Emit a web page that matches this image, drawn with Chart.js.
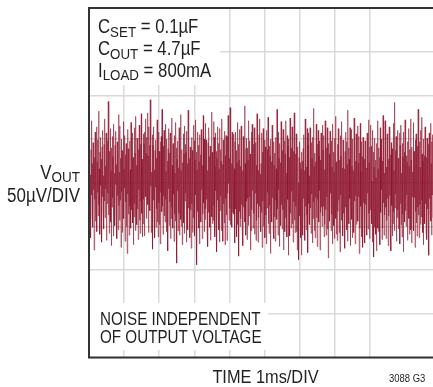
<!DOCTYPE html>
<html>
<head>
<meta charset="utf-8">
<script src="https://cdn.jsdelivr.net/npm/chart.js@4"></script>
<style>
  html, body { margin: 0; padding: 0; background: #fff; }
  #wrap { width: 433px; height: 387px; }
</style>
</head>
<body>
<div id="wrap"><canvas id="chart" width="433" height="387"></canvas></div>
<script>
// output noise, µV from the DC level (left to right)
const vout = [
  18,-42,55,-27,9,-63,38,-14,71,-35,22,-51,46,-8,33,-77,29,-19,58,-44,
  13,-31,64,-56,24,-11,49,-38,82,-25,16,-59,35,-3,52,-47,27,-68,41,-16,
  60,-29,8,-53,44,-21,73,-40,19,-7,57,-66,31,-24,48,-12,93,-37,25,-58,
  36,-9,62,-45,14,-72,40,-28,53,-17,30,-61,67,-33,11,-49,43,-2,59,-39,
  21,-64,47,-15,35,-54,78,-26,12,-43,65,-20,28,-74,50,-10,37,-57,23,-34,
  70,-41,16,-6,54,-67,32,-22,45,-50,26,-81,61,-13,39,-36,8,-60,48,-27,
  15,-52,69,-31,42,-18,57,-46,29,-71,10,-39,63,-24,34,-55,76,-12,20,-48,
  51,-30,24,-65,38,-8,66,-43,17,-58,44,-21,79,-35,27,-62,13,-47,56,-19,
  45,-61,58,-2,73,-16,34,-41,52,3,80,-25,31,-57,64,-13,43,-32,95,-4,
  26,-57,12,-34,55,-76,43,-20,64,-40,15,-63,37,-5,49,-51,28,-30,72,-45,
  9,-62,58,-23,36,-48,18,-70,47,-11,53,-33,84,-27,21,-59,42,-15,60,-38,
  30,-45,67,-19,13,-56,50,-32,25,-78,39,-7,62,-49,34,-22,57,-64,16,-41,
  74,-28,20,-52,45,-13,31,-67,54,-36,11,-44,69,-18,40,-92,27,-9,48,-55,
  17,-35,63,-60,29,-25,78,-42,14,-50,38,-71,23,-16,56,-46,33,-58,65,-21,
  44,-12,35,-68,59,-37,22,-54,83,-29,47,-6,28,-63,41,-31,18,-75,52,-24,
  37,-57,10,-40,66,-20,48,-61,26,-14,72,-47,35,-94,15,-33,58,-27,43,-52,
  24,-70,55,-17,32,-45,61,-8,39,-64,20,-36,77,-23,50,-56,12,-42,68,-30,
  49,-19,27,-58,14,-73,46,-34,63,-11,30,-51,42,-66,24,-13,81,-39,35,-47,
  11,-43,70,-26,52,-62,19,-9,57,-48,36,-79,28,-20,64,-35,45,-54,16,-68,
  62,-32,38,-15,25,-55,73,-41,21,-67,49,-24,13,-46,59,-71,31,-18,54,-37,
  38,-66,53,-12,77,-1,44,-43,28,-29,86,-48,50,-17,22,-51,58,-34,39,-4,
  56,-36,16,-69,47,-30,58,-7,37,-62,23,-48,69,-19,44,-84,26,-33,61,-50,
  19,-41,65,-25,30,-57,14,-72,53,-28,42,-13,88,-45,22,-60,39,-21,51,-65,
  40,-18,26,-49,71,-38,48,-16,33,-77,17,-55,58,-31,67,-9,25,-52,44,-35,
  63,-59,31,-12,46,-66,20,-43,79,-24,36,-68,14,-40,55,-27,73,-46,10,-56,
  22,-34,57,-74,35,-21,62,-50,27,-15,49,-63,41,-37,18,-70,60,-29,38,-11,
  75,-47,13,-58,42,-26,31,-81,50,-33,24,-45,66,-17,32,-54,47,-64,20,-39,
  34,-67,52,-20,16,-42,84,-30,39,-60,58,-8,28,-73,45,-36,23,-49,70,-25,
  14,-53,37,-31,61,-77,22,-14,48,-56,33,-40,71,-28,11,-62,54,-19,42,-83,
  50,-23,29,-61,74,-35,17,-52,40,-10,64,-47,27,-68,36,-22,80,-43,15,-57,
  33,-27,56,-56,9,-77,41,-44,0,-88,29,-38,47,-24,23,-63,16,-83,35,-45,
  25,-60,39,-18,55,-39,14,-66,73,-27,30,-54,18,-37,62,-80,43,-24,57,-46,
  8,-48,63,-29,37,-58,46,-13,28,-69,52,-41,85,-22,19,-55,34,-63,24,-17,
  67,-40,20,-73,44,-19,60,-45,31,-9,48,-77,26,-34,57,-28,13,-50,66,-38,
  38,-27,54,-62,15,-48,71,-31,22,-60,40,-16,63,-53,29,-86,45,-21,33,-44,
  59,-12,27,-55,48,-36,18,-70,67,-24,35,-49,12,-64,51,-30,76,-41,24,-59,
  20,-66,44,-33,62,-20,39,-57,26,-79,54,-14,31,-43,70,-25,17,-61,49,-35,
  43,-51,16,-75,36,-28,58,-11,47,-54,21,-67,83,-30,40,-47,27,-18,63,-72,
  31,-24,61,-42,19,-63,50,-36,14,-57,74,-21,38,-70,25,-15,56,-48,35,-29,
  65,-44,23,-16,53,-81,34,-52,68,-27,13,-62,47,-39,30,-74,52,-23,18,-50,
  27,-69,48,-25,39,-46,17,-60,57,-12,42,-53,72,-35,23,-64,41,-31,66,-20,
  42,-47,2,-68,60,-40,35,-85,18,-51,51,-29,26,-59,6,-78,45,-37,71,-52,
  16,-56,40,-21,29,-71,63,-34,50,-8,33,-65,25,-52,77,-23,44,-60,11,-37,
  71,-28,35,-64,18,-43,56,-18,42,-72,27,-38,64,-15,49,-58,32,-78,46,-26,
  39,-61,22,-47,68,-33,14,-55,92,-29,37,-13,53,-67,21,-40,60,-31,28,-53,
  23,-19,57,-70,43,-24,66,-48,11,-62,45,-36,30,-79,58,-10,35,-45,72,-32,
  54,-50,31,-14,24,-66,47,-27,62,-41,19,-59,38,-21,73,-54,26,-69,41,-16,
  12,-38,69,-55,36,-17,28,-74,49,-33,56,-46,15,-61,42,-28,84,-37,20,-63,
  47,-25,18,-48,60,-39,75,-20,33,-57,25,-71,50,-12,31,-47,64,-24,38,-56,
  29,-65,51,-30,15,-52,44,-83,57,-18,40,-35,68,-44,22,-60,47,-14,55,-40
];
const timeSpan = 9.8;          // ms shown on screen (10th division is cut off)
const yTicks = [-200, -150, -100, -50, 0, 50, 100, 150, 200];

const FONT = '"Liberation Sans", Arial, sans-serif';
const INK = '#231f20';

function rich(ctx, parts, x, y, align, sx) {
  // parts: [text, size, dy]
  let w = 0;
  parts.forEach(p => { ctx.font = p[1] + 'px ' + FONT; w += ctx.measureText(p[0]).width * sx; });
  let cx = align === 'right' ? x - w : (align === 'center' ? x - w / 2 : x);
  parts.forEach(p => {
    ctx.font = p[1] + 'px ' + FONT;
    ctx.save();
    ctx.translate(cx, y + (p[2] || 0));
    ctx.scale(sx, 1);
    ctx.fillText(p[0], 0, 0);
    ctx.restore();
    cx += ctx.measureText(p[0]).width * sx;
  });
}

const scopeDecor = {
  id: 'scopeDecor',
  afterDatasetsDraw(chart) {
    const ctx = chart.ctx;
    const a = chart.chartArea;
    ctx.save();
    // white boxes behind the notes
    ctx.fillStyle = '#fff';
    ctx.fillRect(a.left, a.top, 131, 77);
    ctx.fillRect(a.left, 303, 179, 47);
    // frame: top, left, bottom
    ctx.strokeStyle = '#333';
    ctx.lineWidth = 2;
    ctx.beginPath();
    ctx.moveTo(433, a.top); ctx.lineTo(a.left, a.top);
    ctx.lineTo(a.left, a.bottom); ctx.lineTo(433, a.bottom);
    ctx.stroke();

    ctx.fillStyle = INK;
    ctx.textBaseline = 'alphabetic';
    rich(ctx, [['C', 19.5], ['SET', 15.5, 3.5], [' = 0.1µF', 19.5]], 98, 33, 'left', 0.86);
    rich(ctx, [['C', 19.5], ['OUT', 15.5, 3.5], [' = 4.7µF', 19.5]], 98, 55, 'left', 0.86);
    rich(ctx, [['I', 19.5], ['LOAD', 15.5, 3.5], [' = 800mA', 19.5]], 98, 76.5, 'left', 0.86);

    rich(ctx, [['V', 19.5], ['OUT', 15.5, 3]], 80, 179, 'right', 0.87);
    rich(ctx, [['50µV/DIV', 19.5]], 80, 201.5, 'right', 0.87);

    rich(ctx, [['NOISE INDEPENDENT', 19]], 100, 324.5, 'left', 0.8);
    rich(ctx, [['OF OUTPUT VOLTAGE', 19]], 100, 343, 'left', 0.8);

    rich(ctx, [['TIME 1ms/DIV', 19]], 265.5, 382.5, 'center', 0.86);
    rich(ctx, [['3088 G3', 11]], 389, 382, 'left', 0.86);
    ctx.restore();
  }
};

new Chart(document.getElementById('chart'), {
  type: 'line',
  data: {
    datasets: [{
      data: vout.map((v, i) => ({ x: i * timeSpan / (vout.length - 1), y: v })),
      borderColor: 'rgba(138, 14, 40, 0.55)',
      borderWidth: 1,
      pointRadius: 0,
      tension: 0,
      fill: false
    }]
  },
  options: {
    responsive: false,
    animation: false,
    devicePixelRatio: 1,
    layout: { padding: { left: 89, top: 8, right: 0, bottom: 29.5 } },
    plugins: { legend: { display: false }, tooltip: { enabled: false } },
    scales: {
      x: {
        type: 'linear',
        min: 0,
        max: timeSpan,
        border: { display: false },
        ticks: { display: false, stepSize: 1 },
        grid: {
          drawTicks: false,
          lineWidth: 1.5,
          color: c => (c.tick && Number.isInteger(c.tick.value)) ? '#dadada' : 'rgba(0,0,0,0)'
        }
      },
      y: {
        min: yTicks[0],
        max: yTicks[yTicks.length - 1],
        border: { display: false },
        afterBuildTicks: s => { s.ticks = yTicks.map(v => ({ value: v })); },
        ticks: { display: false },
        grid: { drawTicks: false, lineWidth: 1.5, color: '#dadada' }
      }
    }
  },
  plugins: [scopeDecor]
});
</script>
</body>
</html>
